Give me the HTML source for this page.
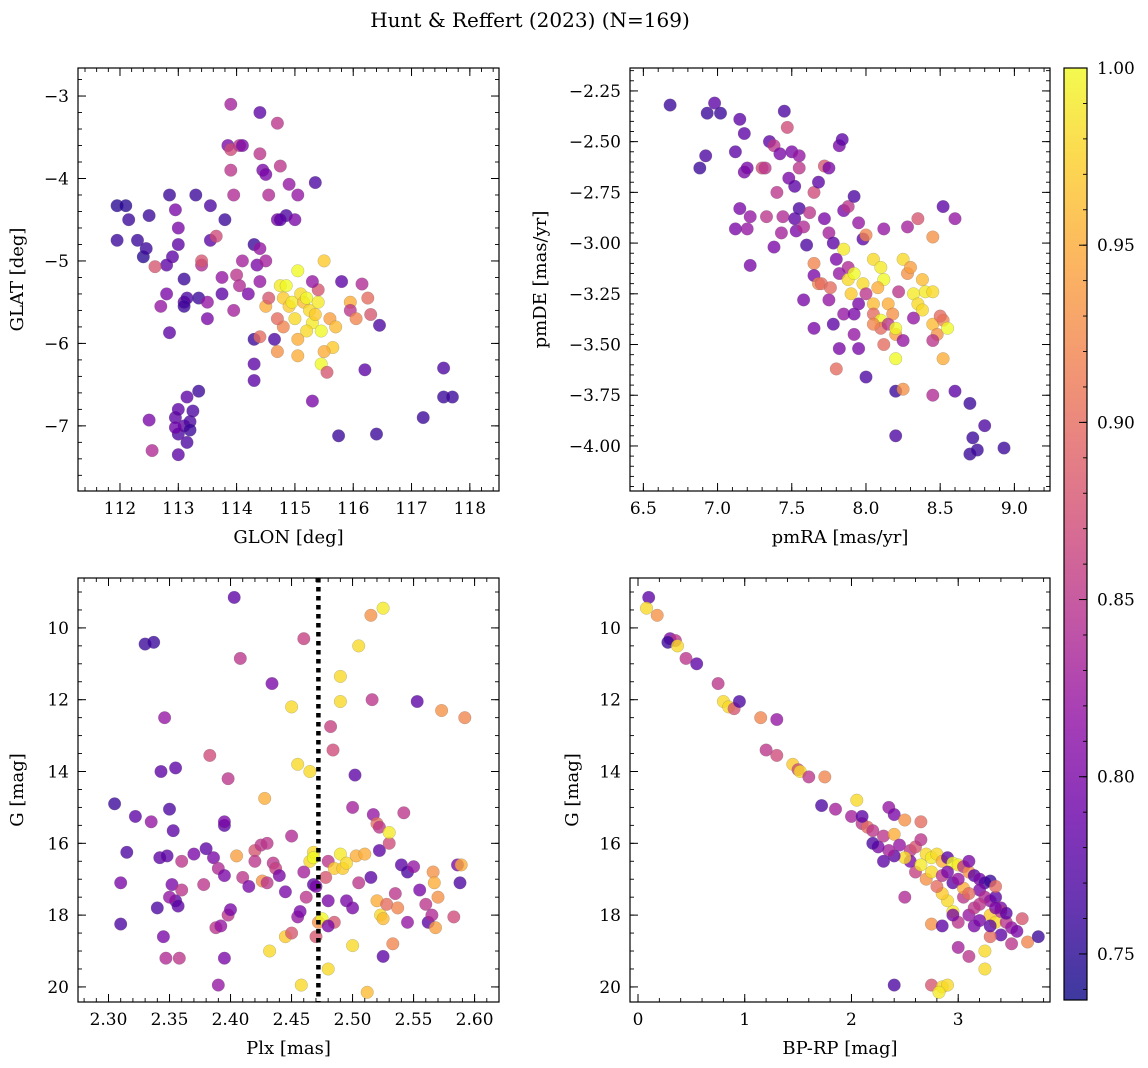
<!DOCTYPE html>
<html><head><meta charset="utf-8"><style>
body{margin:0;background:#fff;}
svg{display:block;font-family:"DejaVu Serif","Liberation Serif",serif;}
</style></head><body>
<svg id="fig" width="1148" height="1068" viewBox="0 0 1148 1068">
<defs><linearGradient id="cbg" x1="0" y1="1" x2="0" y2="0"></linearGradient></defs>
<text x="530" y="27" font-size="20" text-anchor="middle">Hunt &amp; Reffert (2023) (N=169)</text>
</svg>
<script>
// ---- data ----
const p1 = [[111.95,-4.33,0.75],[112.1,-4.33,0.75],[112.15,-4.5,0.76],[111.95,-4.75,0.76],[112.3,-4.75,0.76],[112.4,-4.95,0.75],[112.45,-4.85,0.76],[112.5,-4.45,0.76],[112.85,-4.2,0.76],[112.95,-4.38,0.8],[113.0,-4.6,0.8],[113.0,-4.8,0.78],[112.9,-4.95,0.78],[113.1,-5.22,0.76],[112.8,-5.05,0.78],[112.6,-5.07,0.88],[112.8,-5.4,0.8],[112.7,-5.55,0.82],[113.1,-5.5,0.78],[113.15,-5.45,0.77],[113.1,-5.55,0.76],[112.85,-5.87,0.78],[113.35,-5.45,0.76],[113.3,-4.2,0.76],[113.55,-4.33,0.77],[113.55,-4.75,0.78],[113.65,-4.7,0.87],[113.4,-5.05,0.84],[113.4,-5.0,0.88],[113.5,-5.5,0.82],[113.5,-5.7,0.8],[113.75,-5.2,0.82],[113.75,-5.4,0.78],[113.8,-4.5,0.76],[113.85,-3.6,0.8],[113.9,-3.65,0.87],[113.9,-3.1,0.83],[113.95,-4.2,0.84],[113.9,-3.9,0.85],[114.0,-5.17,0.85],[114.05,-5.3,0.84],[114.05,-3.6,0.85],[114.1,-3.6,0.8],[114.1,-5.0,0.83],[113.95,-5.6,0.83],[114.2,-5.4,0.8],[114.3,-4.8,0.76],[114.35,-5.05,0.8],[114.4,-4.85,0.82],[114.4,-3.2,0.78],[114.4,-3.7,0.85],[114.45,-3.9,0.8],[114.5,-3.95,0.8],[114.5,-5.0,0.83],[114.4,-5.25,0.82],[114.3,-5.95,0.76],[114.3,-6.25,0.78],[114.3,-6.45,0.78],[114.4,-5.92,0.9],[114.5,-5.55,0.95],[114.55,-5.45,0.88],[114.55,-4.2,0.84],[114.7,-4.5,0.8],[114.7,-3.33,0.85],[114.75,-3.85,0.85],[114.85,-4.45,0.77],[114.75,-4.5,0.78],[114.9,-4.07,0.82],[115.0,-4.5,0.8],[115.05,-4.2,0.82],[115.35,-4.05,0.77],[114.75,-5.3,0.99],[114.8,-5.45,0.97],[114.9,-5.55,0.97],[114.85,-5.3,1.0],[114.95,-5.5,0.99],[115.0,-5.7,0.98],[115.05,-5.12,1.0],[115.1,-5.4,0.98],[115.15,-5.5,0.96],[115.2,-5.45,1.0],[115.25,-5.6,0.98],[115.3,-5.75,0.99],[115.35,-5.65,0.97],[115.45,-5.85,1.0],[115.4,-5.5,0.99],[115.2,-5.85,0.98],[115.5,-5.0,0.97],[115.6,-5.7,0.94],[115.7,-5.8,0.96],[115.65,-6.05,0.97],[115.5,-6.1,0.95],[115.45,-6.25,1.0],[115.55,-6.35,0.88],[115.4,-5.35,0.88],[115.3,-5.25,0.82],[115.05,-5.95,0.95],[115.05,-6.15,0.95],[114.7,-6.1,0.93],[114.65,-5.95,0.77],[114.8,-5.8,0.92],[114.7,-5.7,0.9],[115.95,-5.5,0.95],[115.95,-5.6,0.85],[116.05,-5.7,0.92],[115.8,-5.25,0.78],[116.15,-5.28,0.84],[116.25,-5.45,0.9],[116.3,-5.65,0.88],[116.45,-5.78,0.77],[116.2,-6.32,0.78],[115.3,-6.7,0.8],[115.75,-7.12,0.76],[116.4,-7.1,0.76],[117.2,-6.9,0.76],[117.55,-6.3,0.77],[117.55,-6.65,0.76],[117.7,-6.65,0.76],[112.5,-6.93,0.8],[112.55,-7.3,0.84],[112.95,-6.9,0.78],[113.0,-6.8,0.78],[113.0,-7.1,0.77],[113.1,-7.0,0.78],[113.15,-7.2,0.77],[113.2,-6.95,0.77],[113.2,-7.05,0.76],[113.25,-6.82,0.77],[113.15,-6.65,0.78],[113.35,-6.58,0.76],[113.0,-7.35,0.78],[112.95,-7.02,0.79]];
const p2 = [[6.68,-2.32,0.76],[6.88,-2.63,0.76],[6.92,-2.57,0.77],[6.93,-2.36,0.76],[6.98,-2.31,0.78],[7.02,-2.36,0.76],[7.12,-2.55,0.78],[7.15,-2.39,0.78],[7.18,-2.46,0.78],[7.18,-2.65,0.8],[7.15,-2.83,0.8],[7.12,-2.93,0.8],[7.2,-2.93,0.82],[7.2,-2.63,0.8],[7.22,-2.87,0.82],[7.22,-3.11,0.8],[7.3,-2.63,0.87],[7.32,-2.63,0.85],[7.33,-2.87,0.85],[7.35,-2.5,0.78],[7.38,-2.52,0.85],[7.4,-2.75,0.85],[7.42,-2.56,0.8],[7.44,-2.87,0.84],[7.43,-2.95,0.83],[7.38,-3.02,0.8],[7.45,-2.35,0.77],[7.47,-2.43,0.87],[7.48,-2.68,0.8],[7.5,-2.55,0.8],[7.55,-2.57,0.82],[7.55,-2.63,0.85],[7.52,-2.72,0.78],[7.52,-2.88,0.78],[7.55,-2.83,0.77],[7.53,-2.94,0.8],[7.58,-2.92,0.84],[7.6,-3.01,0.77],[7.62,-2.85,0.85],[7.65,-2.75,0.87],[7.68,-2.7,0.78],[7.72,-2.62,0.88],[7.75,-2.63,0.8],[7.72,-2.88,0.8],[7.75,-2.95,0.83],[7.78,-3.0,0.78],[7.82,-2.52,0.8],[7.84,-2.49,0.78],[7.85,-2.84,0.8],[7.88,-2.82,0.85],[7.92,-2.77,0.77],[7.95,-2.9,0.82],[7.98,-2.98,0.78],[8.0,-2.96,0.92],[7.85,-3.03,0.99],[7.88,-3.12,0.84],[7.65,-3.1,0.92],[7.65,-3.16,0.8],[7.68,-3.2,0.92],[7.7,-3.2,0.9],[7.75,-3.28,0.82],[7.76,-3.22,0.9],[7.8,-3.08,0.8],[7.82,-3.15,0.82],[7.88,-3.18,0.98],[7.9,-3.25,0.97],[7.92,-3.15,1.0],[7.95,-3.3,0.8],[7.98,-3.2,0.98],[8.0,-3.25,0.85],[8.05,-3.08,0.98],[8.1,-3.12,0.99],[8.12,-3.18,1.0],[8.08,-3.22,0.95],[8.05,-3.3,0.96],[8.05,-3.35,0.9],[8.1,-3.38,1.0],[8.15,-3.3,0.95],[8.18,-3.35,0.93],[8.2,-3.45,0.94],[8.25,-3.08,0.98],[8.28,-3.15,0.93],[8.32,-3.25,0.99],[8.35,-3.3,0.98],[8.38,-3.33,0.98],[8.4,-3.24,0.99],[8.45,-3.24,0.98],[8.3,-3.12,0.94],[8.38,-3.18,0.96],[8.22,-3.24,0.85],[8.1,-3.42,0.9],[8.15,-3.4,0.85],[8.2,-3.42,1.0],[8.05,-3.4,0.92],[8.12,-3.5,0.9],[8.25,-3.48,0.82],[8.32,-3.37,0.82],[8.45,-3.4,0.96],[8.48,-3.45,0.93],[8.52,-3.38,0.92],[8.55,-3.42,1.0],[8.52,-3.57,0.95],[8.45,-3.48,0.85],[8.5,-3.36,0.9],[8.45,-2.97,0.93],[8.35,-2.88,0.88],[8.28,-2.92,0.83],[8.12,-2.93,0.82],[8.52,-2.82,0.78],[8.6,-2.88,0.82],[8.2,-3.57,1.0],[8.2,-3.73,0.76],[8.25,-3.72,0.93],[8.45,-3.75,0.84],[8.6,-3.73,0.78],[8.7,-3.79,0.76],[8.8,-3.9,0.77],[8.72,-3.96,0.76],[8.7,-4.04,0.76],[8.75,-4.02,0.76],[8.93,-4.01,0.76],[8.2,-3.95,0.77],[8.0,-3.66,0.77],[7.82,-3.52,0.8],[7.8,-3.62,0.9],[7.65,-3.42,0.8],[7.58,-3.28,0.8],[7.78,-3.4,0.78],[7.85,-3.35,0.82],[7.92,-3.35,0.8],[7.92,-3.45,0.82],[7.95,-3.52,0.8]];
const p3 = [[2.305,14.9,0.76],[2.31,17.1,0.8],[2.31,18.25,0.77],[2.315,16.25,0.77],[2.322,15.25,0.78],[2.33,10.45,0.76],[2.337,10.4,0.76],[2.335,15.4,0.82],[2.34,17.8,0.77],[2.342,16.4,0.78],[2.343,14.0,0.78],[2.345,18.6,0.8],[2.347,19.2,0.84],[2.346,12.5,0.82],[2.348,16.35,0.78],[2.35,15.05,0.77],[2.352,17.15,0.8],[2.353,15.65,0.78],[2.355,17.6,0.78],[2.355,13.9,0.78],[2.357,17.75,0.78],[2.358,19.2,0.85],[2.36,16.5,0.85],[2.36,17.3,0.85],[2.35,17.5,0.82],[2.37,16.3,0.8],[2.378,17.15,0.85],[2.38,16.15,0.78],[2.383,13.55,0.87],[2.386,16.4,0.8],[2.388,18.35,0.85],[2.39,16.7,0.84],[2.39,19.95,0.82],[2.392,18.3,0.82],[2.395,15.5,0.78],[2.395,15.4,0.8],[2.395,16.9,0.8],[2.398,14.2,0.85],[2.398,18.0,0.85],[2.4,17.85,0.8],[2.395,19.2,0.8],[2.403,9.15,0.78],[2.405,16.35,0.94],[2.408,10.85,0.85],[2.41,16.95,0.85],[2.415,17.2,0.8],[2.42,16.2,0.88],[2.42,16.5,0.85],[2.425,16.05,0.85],[2.426,17.05,0.93],[2.428,14.75,0.95],[2.43,17.1,0.85],[2.43,16.0,0.85],[2.432,19.0,0.98],[2.434,11.55,0.8],[2.435,16.55,0.85],[2.437,16.7,0.86],[2.44,16.9,0.8],[2.445,17.35,0.8],[2.445,18.6,0.97],[2.45,15.8,0.84],[2.45,18.5,0.88],[2.45,12.2,0.98],[2.455,13.8,0.98],[2.455,18.05,0.82],[2.458,19.95,0.98],[2.46,10.3,0.86],[2.462,17.5,0.85],[2.465,14.0,0.98],[2.465,16.5,0.98],[2.468,16.25,0.98],[2.468,16.4,1.0],[2.468,17.15,0.78],[2.47,18.6,0.88],[2.472,18.2,0.93],[2.475,18.1,1.0],[2.478,16.95,0.88],[2.48,16.5,0.85],[2.48,17.6,0.8],[2.48,19.5,0.98],[2.482,12.75,0.86],[2.484,13.4,0.87],[2.485,18.2,0.88],[2.485,16.7,0.97],[2.49,12.05,0.98],[2.49,11.35,0.98],[2.49,16.3,0.99],[2.495,17.6,0.8],[2.492,16.7,0.97],[2.495,16.55,0.98],[2.5,15.0,0.83],[2.5,17.8,0.8],[2.5,18.85,0.98],[2.502,14.1,0.78],[2.503,16.35,0.95],[2.505,10.5,0.98],[2.51,16.3,0.95],[2.512,20.15,0.96],[2.515,9.65,0.93],[2.516,12.0,0.85],[2.517,15.2,0.82],[2.52,15.45,0.9],[2.522,15.55,0.85],[2.52,17.6,0.95],[2.522,16.2,0.78],[2.523,18.0,0.98],[2.525,9.45,0.99],[2.525,19.15,0.78],[2.528,17.7,0.9],[2.53,16.0,0.87],[2.53,15.7,0.99],[2.533,18.8,0.92],[2.535,17.4,0.85],[2.537,17.8,0.92],[2.54,16.6,0.78],[2.542,15.15,0.85],[2.545,16.8,0.77],[2.55,16.65,0.82],[2.553,12.05,0.78],[2.555,17.3,0.8],[2.56,17.7,0.85],[2.562,18.2,0.78],[2.565,18.0,0.84],[2.566,16.8,0.93],[2.567,17.1,0.95],[2.568,18.35,0.94],[2.57,17.5,0.93],[2.573,12.3,0.93],[2.583,18.05,0.87],[2.586,16.6,0.8],[2.588,17.1,0.77],[2.589,16.6,0.95],[2.592,12.5,0.92],[2.46,16.8,0.83],[2.47,17.2,0.8],[2.457,17.9,0.8],[2.505,17.1,0.85],[2.515,16.95,0.78],[2.48,18.3,0.8],[2.525,18.1,0.96],[2.545,18.2,0.82]];
const p4 = [[0.1,9.15,0.78],[0.08,9.45,0.98],[0.18,9.65,0.93],[0.3,10.3,0.8],[0.35,10.35,0.85],[0.28,10.4,0.76],[0.37,10.5,0.98],[0.45,10.85,0.85],[0.55,11.0,0.78],[0.75,11.55,0.85],[0.8,12.05,0.98],[0.85,12.2,0.98],[0.9,12.25,0.88],[0.95,12.05,0.77],[1.15,12.5,0.92],[1.3,12.55,0.82],[1.2,13.4,0.85],[1.3,13.55,0.87],[1.45,13.8,0.97],[1.5,13.95,0.87],[1.52,14.0,0.98],[1.6,14.15,0.85],[1.75,14.15,0.92],[1.72,14.95,0.77],[1.85,15.05,0.83],[2.05,14.8,0.98],[2.0,15.25,0.83],[2.1,15.45,0.85],[2.15,15.55,0.9],[2.1,15.25,0.78],[2.2,15.65,0.85],[2.3,15.8,0.85],[2.35,15.0,0.82],[2.4,15.2,0.8],[2.4,15.75,0.95],[2.5,15.35,0.93],[2.45,16.05,0.82],[2.55,16.2,0.85],[2.6,16.1,0.88],[2.65,15.4,0.9],[2.65,15.9,0.85],[2.7,16.3,0.98],[2.75,16.4,0.99],[2.8,16.3,0.98],[2.85,16.5,0.95],[2.9,16.4,0.78],[2.95,16.55,1.0],[3.0,16.6,0.99],[3.05,16.65,0.85],[3.1,16.8,0.93],[3.1,16.5,0.8],[3.15,16.9,0.78],[3.2,17.0,0.8],[3.25,17.1,0.77],[3.3,17.05,0.76],[3.2,17.3,0.8],[3.25,17.5,0.84],[3.3,17.6,0.82],[3.35,17.5,0.78],[3.4,17.8,0.8],[3.3,18.0,0.97],[3.35,18.2,0.98],[3.45,18.2,0.85],[3.5,18.35,0.82],[3.55,18.45,0.8],[3.6,18.1,0.88],[3.65,18.75,0.92],[3.75,18.6,0.76],[3.4,18.55,0.78],[3.3,18.6,0.9],[3.25,19.0,0.98],[3.25,19.5,0.98],[3.15,18.3,0.8],[3.1,18.0,0.82],[3.0,18.2,0.85],[2.95,17.9,0.99],[2.9,17.6,0.98],[2.85,17.4,0.97],[2.8,17.2,0.9],[2.7,17.0,0.93],[2.75,16.8,0.98],[2.6,16.8,0.86],[2.55,16.5,0.8],[2.5,16.4,0.98],[2.4,16.35,0.78],[2.35,16.2,0.83],[2.3,16.5,0.78],[2.25,16.1,0.8],[2.2,16.0,0.77],[2.5,17.5,0.84],[2.75,18.25,0.93],[2.85,18.3,0.78],[2.95,18.0,0.8],[3.05,17.5,0.85],[3.15,17.8,0.85],[3.2,18.15,0.8],[3.35,17.2,0.9],[3.4,17.9,0.85],[3.45,17.95,0.78],[2.85,16.9,0.85],[2.95,17.1,0.78],[3.05,17.25,0.95],[2.65,16.6,0.99],[2.4,19.95,0.77],[2.75,19.95,0.88],[2.85,20.0,0.98],[2.9,19.95,0.98],[2.82,20.15,0.99],[3.0,18.9,0.83],[3.1,19.15,0.85],[3.5,18.8,0.85],[3.3,18.3,0.78],[2.9,16.8,0.8],[3.0,17.0,0.82],[3.1,17.4,0.9],[3.2,17.7,0.85],[3.35,17.8,0.8]];
const xTicks1 = [112,113,114,115,116,117,118];
const yTicks1 = [-3,-4,-5,-6,-7];
const xTicks2 = [6.5,7.0,7.5,8.0,8.5,9.0];
const yTicks2 = [-2.25,-2.5,-2.75,-3.0,-3.25,-3.5,-3.75,-4.0];
const xTicks3 = [2.30,2.35,2.40,2.45,2.50,2.55,2.60];
const yTicksG = [10,12,14,16,18,20];
const xTicks4 = [0,1,2,3];
const cbTicks = [0.75,0.80,0.85,0.90,0.95,1.00];
const plxLine = 2.472;
const vmin = 0.737, vmax = 1.0;

const NS = "http://www.w3.org/2000/svg";
const svg = document.getElementById('fig');
function mk(tag, attrs, parent){ const e=document.createElementNS(NS,tag); for(const k in attrs) e.setAttribute(k,attrs[k]); (parent||svg).appendChild(e); return e; }
const stops=[[0,[13,8,135]],[0.1,[65,4,157]],[0.2,[106,0,168]],[0.3,[143,13,164]],[0.4,[177,42,144]],[0.5,[204,71,120]],[0.6,[225,100,98]],[0.7,[242,132,75]],[0.8,[252,166,54]],[0.9,[252,206,37]],[1,[240,249,33]]];
function plasma(t){ t=Math.max(0,Math.min(1,t)); for(let i=1;i<stops.length;i++){ if(t<=stops[i][0]){ const a=stops[i-1],b=stops[i]; const f=(t-a[0])/(b[0]-a[0]); const c=a[1].map((v,j)=>Math.round(v+(b[1][j]-v)*f)); return `rgb(${c})`; } } return 'rgb(240,249,33)'; }
function cmap(v){ return plasma((v-vmin)/(vmax-vmin)); }
function fmt(v,d){ return (v<0?'\u2212':'')+Math.abs(v).toFixed(d); }

function panel(o){
  const {name,L,T,R,B,xd,yd,xt,yt,xdec,ydec,xminor,yminor,pts,xlab,ylab} = o;
  const g = mk('g',{});
  
  
  const sx = v => L + (v-xd[0])/(xd[1]-xd[0])*(R-L);
  const sy = v => T + (v-yd[0])/(yd[1]-yd[0])*(B-T);
  const clip = mk('clipPath',{id:name+'-clip'},g); mk('rect',{x:L,y:T,width:R-L,height:B-T},clip);
  const pg = mk('g',{'clip-path':`url(#${name}-clip)`},g);
  pts.forEach(p=>{
    const c = mk('circle',{cx:sx(p[0]).toFixed(1),cy:sy(p[1]).toFixed(1),r:6.3,fill:cmap(p[2]),'fill-opacity':0.78,stroke:'#666','stroke-width':0.4,'stroke-opacity':0.5},pg);
    
    
  });
  if(o.vline!==undefined){
    const l = mk('line',{x1:sx(o.vline),x2:sx(o.vline),y1:T,y2:B,stroke:'#000','stroke-width':4.5,'stroke-dasharray':'4.5,4.5'},g);
    
    
  }
  const lo=Math.min(...xd),hi=Math.max(...xd);
  for(let v=Math.ceil(lo/xminor)*xminor; v<=hi; v+=xminor){ const x=sx(v); mk('line',{x1:x,x2:x,y1:B,y2:B-4,stroke:'#000','stroke-width':0.9},g); mk('line',{x1:x,x2:x,y1:T,y2:T+4,stroke:'#000','stroke-width':0.9},g); }
  const ylo=Math.min(...yd),yhi=Math.max(...yd);
  for(let v=Math.ceil(ylo/yminor)*yminor; v<=yhi; v+=yminor){ const y=sy(v); mk('line',{x1:L,x2:L+4,y1:y,y2:y,stroke:'#000','stroke-width':0.9},g); mk('line',{x1:R,x2:R-4,y1:y,y2:y,stroke:'#000','stroke-width':0.9},g); }
  xt.forEach(v=>{ const x=sx(v); mk('line',{x1:x,x2:x,y1:B,y2:B-8,stroke:'#000','stroke-width':1},g); mk('line',{x1:x,x2:x,y1:T,y2:T+8,stroke:'#000','stroke-width':1},g);
    const t=mk('text',{x:x,y:B+23,'font-size':17,'text-anchor':'middle'},g); t.textContent=fmt(v,xdec);
    
     });
  yt.forEach(v=>{ const y=sy(v); mk('line',{x1:L,x2:L+8,y1:y,y2:y,stroke:'#000','stroke-width':1},g); mk('line',{x1:R,x2:R-8,y1:y,y2:y,stroke:'#000','stroke-width':1},g);
    const t=mk('text',{x:L-9,y:y+6,'font-size':17,'text-anchor':'end'},g); t.textContent=fmt(v,ydec);
    
     });
  mk('rect',{x:L,y:T,width:R-L,height:B-T,fill:'none',stroke:'#000','stroke-width':1.2},g);
  const xl=mk('text',{x:(L+R)/2,y:B+52,'font-size':18,'text-anchor':'middle'},g); xl.textContent=xlab;
  
  
  const ylx=o.ylx; const yl=mk('text',{x:ylx,y:(T+B)/2,'font-size':18,'text-anchor':'middle',transform:`rotate(-90 ${ylx} ${(T+B)/2})`},g); yl.textContent=ylab;
  
  
}
panel({name:'glon-glat-panel',L:78,T:68,R:499,B:491,xd:[111.28,118.5],yd:[-2.66,-7.79],xt:xTicks1,yt:yTicks1,xdec:0,ydec:0,xminor:0.2,yminor:0.2,pts:p1,xlab:'GLON [deg]',ylab:'GLAT [deg]',ylx:23});
panel({name:'proper-motion-panel',L:630,T:68,R:1050,B:491,xd:[6.41,9.24],yd:[-2.137,-4.222],xt:xTicks2,yt:yTicks2,xdec:1,ydec:2,xminor:0.1,yminor:0.05,pts:p2,xlab:'pmRA [mas/yr]',ylab:'pmDE [mas/yr]',ylx:546});
panel({name:'parallax-magnitude-panel',L:78,T:578,R:499,B:1002,xd:[2.275,2.62],yd:[8.61,20.42],xt:xTicks3,yt:yTicksG,xdec:2,ydec:0,xminor:0.01,yminor:0.5,pts:p3,xlab:'Plx [mas]',ylab:'G [mag]',ylx:23,vline:plxLine});
panel({name:'color-magnitude-panel',L:630,T:578,R:1050,B:1002,xd:[-0.075,3.86],yd:[8.61,20.42],xt:xTicks4,yt:yTicksG,xdec:0,ydec:0,xminor:0.2,yminor:0.5,pts:p4,xlab:'BP-RP [mag]',ylab:'G [mag]',ylx:578});

// colorbar
const grad=document.getElementById('cbg');
for(let i=0;i<=20;i++){ const t=i/20; mk('stop',{offset:t,'stop-color':plasma(t),'stop-opacity':0.8},grad); }
const cb=mk('g',{});


const cL=1064,cR=1087,cT=68,cB=1000;
mk('rect',{x:cL,y:cT,width:cR-cL,height:cB-cT,fill:'url(#cbg)',stroke:'#000','stroke-width':1.2},cb);
const cy = v => cB - (v-vmin)/(vmax-vmin)*(cB-cT);
for(let v=0.74; v<=1.0001; v+=0.01){ const y=cy(v); mk('line',{x1:cR,x2:cR-4,y1:y,y2:y,stroke:'#000','stroke-width':0.9},cb); }
cbTicks.forEach(v=>{ const y=cy(v); mk('line',{x1:cR,x2:cR-8,y1:y,y2:y,stroke:'#000','stroke-width':1},cb);
  const t=mk('text',{x:cR+10,y:y+6,'font-size':17},cb); t.textContent=v.toFixed(2);
  
   });
</script>
</body></html>
